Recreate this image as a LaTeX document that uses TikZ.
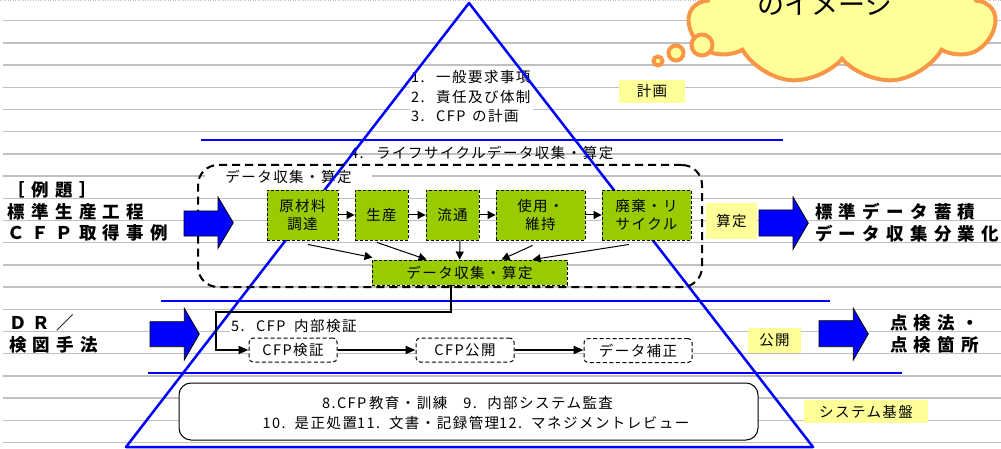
\documentclass[tikz,border=0pt]{standalone}
\usepackage{fontspec}
\setmainfont{Noto Sans CJK JP}
\newfontfamily\jpm[LetterSpace=10]{Noto Sans CJK JP}
\newfontfamily\jpw[LetterSpace=36]{Noto Sans CJK JP}
\usetikzlibrary{shapes.symbols,arrows.meta,calc}
\definecolor{gridgray}{RGB}{192,192,192}
\definecolor{tblue}{RGB}{0,0,255}
\definecolor{lgreen}{RGB}{153,204,0}
\definecolor{lyellow}{RGB}{255,255,153}
\definecolor{corange}{RGB}{247,150,70}
\newcommand{\fsz}[2][]{\fontsize{#2}{18}\selectfont}
\newcommand{\hwb}[2]{\makebox[#1pt][l]{#2}}
\tikzset{
  gline/.style={draw=gridgray, line width=1.3pt},
  bline/.style={draw=tblue, line width=2.2pt},
  tline/.style={draw=tblue, line width=2.5pt, line join=round},
  gbox/.style={draw=black, dash pattern=on 3pt off 2pt, line width=0.9pt, fill=lgreen, inner sep=0pt, font=\jpm\fsz{14.5}, align=center},
  ybox/.style={fill=lyellow, inner sep=0pt, font=\jpm\fsz{14.5}},
  dbox/.style={draw=black, dash pattern=on 4pt off 2.5pt, rounded corners=4pt, fill=white, line width=1pt, inner sep=0pt, font=\jpm\fsz{14.5}},
  thinarr/.style={-{Triangle[length=8pt,width=8pt]}, line width=1pt},
  thickarr/.style={-{Triangle[length=10pt,width=8pt]}, line width=2pt},
  barrow/.style={fill=tblue, draw=black, line width=0.8pt, line join=miter},
  txt/.style={inner sep=0pt, font=\jpm\fsz{14.5}},
  bigtxt/.style={inner sep=0pt, anchor=west, font=\jpw\bfseries\fsz{17.5}},
}
\begin{document}
\begin{tikzpicture}[x=1pt,y=-1pt]
\useasboundingbox (0,0) rectangle (1001,449);
\clip (0,0) rectangle (1001,449);
% background ruled lines
\draw[gridgray, line width=0.8pt, dash pattern=on 1pt off 1.5pt] (0,0.7) -- (1001,0.7);
\foreach \i in {0,...,19} \draw[gline] (3,{20.7+22.2*\i}) -- (1001,{20.7+22.2*\i});
% white-backed labels
\fill[white] (410,69) rectangle (533,126);
\node[txt, anchor=west] (l1) at (411,77) {\hwb{25}{1.}一般要求事項};
\node[txt, anchor=west] (l2) at (411,97.5) {\hwb{25}{2.}責任及び体制};
\node[txt, anchor=west] (l3) at (411,116.5) {\hwb{25}{3.}\hwb{36}{CFP}の計画};
\node[txt, anchor=west] (l4) at (350,153) {\hwb{26}{4.}ライフサイクルデータ収集・算定};
\node[txt, fill=white, minimum width=167pt, minimum height=19pt] (dlab) at (288.5,176.5) {データ収集・算定};
\node[txt, anchor=west, fill=white, inner sep=1pt] (l5) at (230,326) {\hwb{25}{5.}\hwb{38}{CFP}内部検証};
% blue triangle and layer lines
\draw[tline] (469,3) -- (126,447) -- (813,447) -- cycle;
\draw[bline] (201,140.3) -- (783,140.3);
\draw[bline] (161,300.7) -- (830,300.7);
\draw[bline] (148,373.3) -- (902,373.3);
% big dashed region
\node[draw=black, dash pattern=on 8pt off 5pt, line width=2pt, rounded corners=20pt, minimum width=504pt, minimum height=122pt, inner sep=0pt] (big) at (450,226) {};
% green process boxes
\node[gbox, minimum width=71pt, minimum height=50pt] (g1) at (302.5,215) {原材料\\調達};
\node[gbox, minimum width=53pt, minimum height=50pt] (g2) at (381.5,215) {生産};
\node[gbox, minimum width=53pt, minimum height=50pt] (g3) at (452.5,215) {流通};
\node[gbox, minimum width=89pt, minimum height=50pt] (g4) at (540.5,215) {使用・\\維持};
\node[gbox, minimum width=89pt, minimum height=50pt] (g5) at (646.5,215) {廃棄・リ\\サイクル};
\node[gbox, minimum width=195pt, minimum height=25pt] (gd) at (469.5,272.5) {データ収集・算定};
\draw[thinarr] (g1) -- (g2);
\draw[thinarr] (g2) -- (g3);
\draw[thinarr] (g3) -- (g4);
\draw[thinarr] (g4) -- (g5);
\draw[thinarr] ($(g1.south)+(5.5,4)$) -- ($(gd.north west)+(1,-2)$);
\draw[thinarr] ($(g2.south)+(-4.5,2)$) -- ($(gd.north west)+(55,0)$);
\draw[thinarr] ($(g3.south)+(7.5,0)$) -- ($(gd.north west)+(88,0)$);
\draw[thinarr] ($(g4.south)+(-8,5)$) -- ($(gd.north west)+(130,0)$);
\draw[thinarr] ($(g5.south)+(-17.5,4)$) -- ($(gd.north west)+(161,0)$);
% yellow tags
\node[ybox, minimum width=66pt, minimum height=23pt] (yk) at (652,91.5) {計画};
\node[ybox, minimum width=51pt, minimum height=36pt] (ys) at (731.5,221) {算定};
\node[ybox, minimum width=53pt, minimum height=25pt] (yp) at (774.5,340.5) {公開};
\node[ybox, minimum width=124pt, minimum height=23pt] (yb) at (866,411.5) {システム基盤};
% verification row
\node[dbox, minimum width=88pt, minimum height=24pt] (c1) at (293,350) {CFP検証};
\node[dbox, minimum width=98pt, minimum height=24pt] (c2) at (465,350) {CFP公開};
\node[dbox, minimum width=108pt, minimum height=24pt] (c3) at (638,350.5) {データ補正};
\coordinate (k1) at (451,312);
\coordinate (k2) at (216,312);
\draw[thickarr] ($(gd.south)+(-18.5,0)$) -- (k1) -- (k2) |- (c1.west);
\draw[thickarr] (c1.east) -- (c2.west);
\draw[thickarr] (c2.east) -- (c3.west |- c2.east);
% system base box
\node[draw=black, line width=1pt, fill=white, rounded corners=12pt, minimum width=579pt, minimum height=57pt, inner sep=0pt] (sys) at (468.5,411.5) {};
\node[txt] (s1) at (467.5,403) {\hwb{47}{8.CFP}教育・訓練　\hwb{24}{9.}内部システム監査};
\node[txt] (s2) at (476,423) {\hwb{32}{10.}是正処置\hwb{32}{11.}文書・記録管理\hwb{32}{12.}マネジメントレビュー};
% block arrows
\draw[barrow] (184,211) -- (218,211) -- (218,197) -- (233.3,222.7) -- (218,248.3) -- (218,236) -- (184,236) -- cycle;
\draw[barrow] (759,210) -- (793,210) -- (793,197) -- (808.3,223) -- (793,249.3) -- (793,236) -- (759,236) -- cycle;
\draw[barrow] (150,321.7) -- (184.3,321.7) -- (184.3,308.3) -- (199.3,334) -- (184.3,360) -- (184.3,346.7) -- (150,346.7) -- cycle;
\draw[barrow] (819,320.7) -- (853.3,320.7) -- (853.3,308.3) -- (868.3,334) -- (853.3,360) -- (853.3,346.7) -- (819,346.7) -- cycle;
% side texts
\node[bigtxt] (t1) at (7.5,190) {［例題］};
\node[bigtxt] (t2) at (7.5,211.7) {標準生産工程};
\node[bigtxt] (t3) at (7.5,233) {ＣＦＰ取得事例};
\node[bigtxt] (t4) at (815,211.7) {標準データ蓄積};
\node[bigtxt] (t5) at (815,233.3) {データ収集分業化};
\node[bigtxt] (t6) at (9,323.3) {ＤＲ／};
\node[bigtxt] (t7) at (9,345) {検図手法};
\node[bigtxt] (t8) at (890,323.3) {点検法・};
\node[bigtxt] (t9) at (890,345) {点検箇所};
% thought cloud
\node[cloud, cloud puffs=9, cloud puff arc=110, cloud ignores aspect, draw=corange, fill=lyellow, line width=4pt, minimum width=305pt, minimum height=128pt, inner sep=0pt] (cloud) at (842,20) {};
\node[inner sep=0pt, font=\fontsize{27}{30}\selectfont] (ctext) at (825,4) {のイメージ};
\draw[corange, line width=4pt, fill=lyellow] (702,45) circle[radius=10.5pt];
\draw[corange, line width=4pt, fill=lyellow] (676,53) circle[radius=7.5pt];
\draw[corange, line width=4pt, fill=lyellow] (658,61) circle[radius=4.5pt];
\end{tikzpicture}
\end{document}
